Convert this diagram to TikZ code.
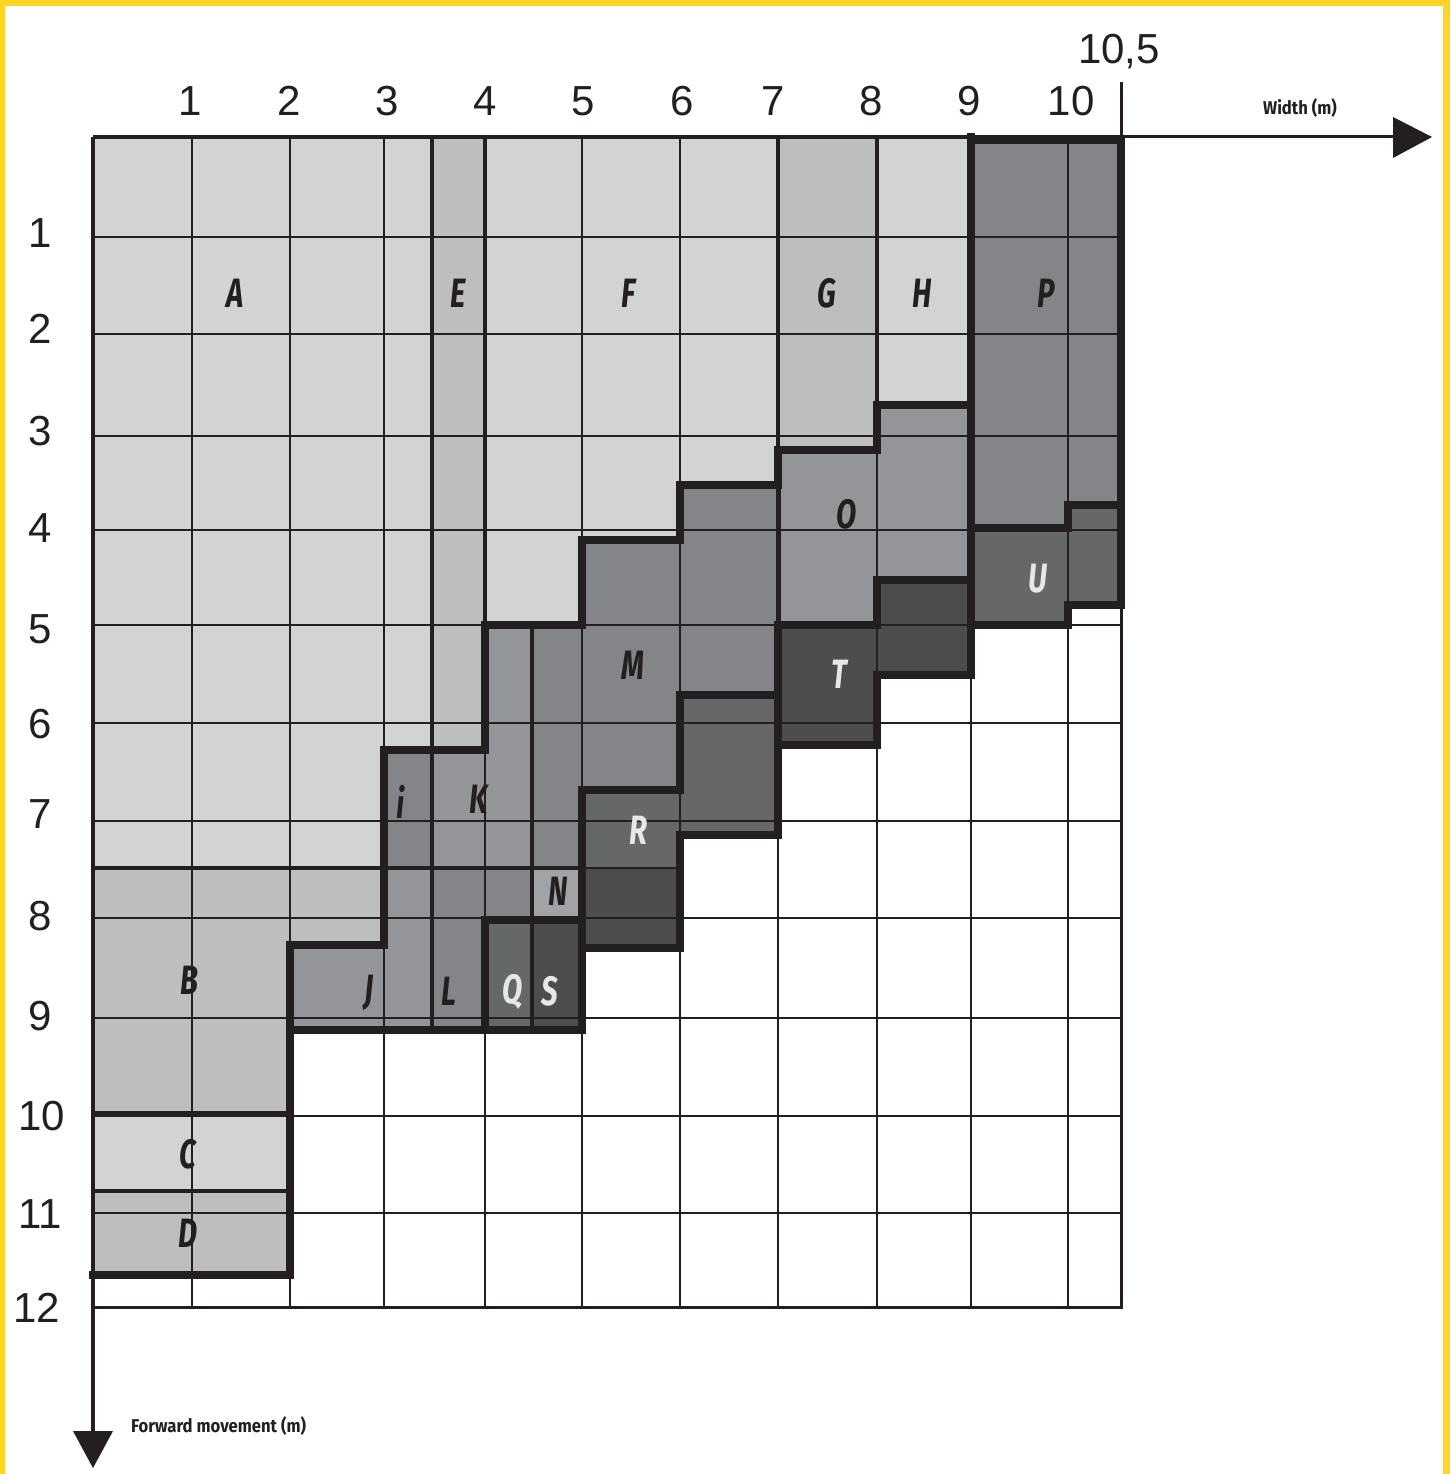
\documentclass[tikz,border=0pt]{standalone}
\usepackage{fontspec}
\setmainfont{Liberation Sans}
\newfontfamily\letfont[FakeStretch=0.72]{Fira Sans}
\newfontfamily\axfont[FakeStretch=0.9]{Fira Sans}
\newfontfamily\numfont{Liberation Sans}
\definecolor{cL}{HTML}{D1D3D4}
\definecolor{cLM}{HTML}{BCBEC0}
\definecolor{cM}{HTML}{939598}
\definecolor{cMD}{HTML}{848588}
\definecolor{cN}{HTML}{A2A3A6}
\definecolor{cDa}{HTML}{666769}
\definecolor{cDb}{HTML}{4D4D4F}
\definecolor{ink}{HTML}{231F20}
\definecolor{wlet}{HTML}{E6E7E8}
\definecolor{yel}{HTML}{FFD520}
\tikzset{
  gridline/.style={draw=ink, line width=1.5pt},
  midline/.style={draw=ink, line width=3.5pt},
  heavy/.style={draw=ink, line width=8.5pt, line join=miter, line cap=rect},
  frameline/.style={draw=ink, line width=3.5pt},
  lbl/.style={inner sep=0pt, anchor=base, text=ink, font=\letfont\bfseries\itshape\fontsize{41}{41}\selectfont},
  wlbl/.style={lbl, text=wlet},
  num/.style={inner sep=0pt, anchor=base, text=ink, font=\numfont\fontsize{42}{42}\selectfont},
  axlbl/.style={inner sep=0pt, text=ink, font=\axfont\bfseries\fontsize{18.5}{18.5}\selectfont}
}
\begin{document}
\begin{tikzpicture}[x=1pt, y=-1pt]
\useasboundingbox (0,0) rectangle (1450,1474);
\fill[white] (0,0) rectangle (1450,1474);
% yellow frame
\fill[yel] (0,0) rectangle (1450,6);
\fill[yel] (0,0) rectangle (5,1474);
\fill[yel] (1443,0) rectangle (1450,1474);

% region fills
\fill[cL] (93,137) -- (432,137) -- (432,750) -- (384,750) -- (384,868) -- (93,868) -- cycle; % A
\fill[cLM] (432,137) rectangle (485,750); % E
\fill[cL] (485,137) -- (778,137) -- (778,485) -- (680,485) -- (680,540) -- (582,540) -- (582,625) -- (485,625) -- cycle; % F
\fill[cLM] (778,137) rectangle (877,450); % G
\fill[cL] (877,137) rectangle (971,405); % H
\fill[cMD] (971,137) -- (1121,137) -- (1121,505) -- (1068,505) -- (1068,528) -- (971,528) -- cycle; % P
\fill[cDa] (971,528) -- (1068,528) -- (1068,505) -- (1121,505) -- (1121,605) -- (1068,605) -- (1068,625) -- (971,625) -- cycle; % U
\fill[cM] (778,450) -- (877,450) -- (877,405) -- (971,405) -- (971,580) -- (877,580) -- (877,625) -- (778,625) -- cycle; % O
\fill[cDb] (778,625) -- (877,625) -- (877,580) -- (971,580) -- (971,675) -- (877,675) -- (877,745) -- (778,745) -- cycle; % T
\fill[cMD] (532,625) -- (582,625) -- (582,540) -- (680,540) -- (680,485) -- (778,485) -- (778,695) -- (680,695) -- (680,790) -- (582,790) -- (582,868) -- (532,868) -- cycle; % M
\fill[cDa] (582,790) -- (680,790) -- (680,695) -- (778,695) -- (778,835) -- (680,835) -- (680,868) -- (582,868) -- cycle; % R
\fill[cDb] (582,868) rectangle (680,948);
\fill[cM] (432,750) -- (485,750) -- (485,625) -- (532,625) -- (532,868) -- (432,868) -- cycle; % K
\fill[cMD] (384,750) rectangle (432,868); % i
\fill[cLM] (93,868) -- (384,868) -- (384,945) -- (290,945) -- (290,1113) -- (93,1113) -- cycle; % B
\fill[cL] (93,1113) rectangle (290,1191); % C
\fill[cLM] (93,1191) rectangle (290,1275); % D
\fill[cM] (290,945) -- (384,945) -- (384,868) -- (432,868) -- (432,1030) -- (290,1030) -- cycle; % J
\fill[cMD] (432,868) -- (532,868) -- (532,918) -- (485,918) -- (485,1030) -- (432,1030) -- cycle; % L
\fill[cN] (532,868) rectangle (582,918); % N
\fill[cDa] (485,918) rectangle (532,1030); % Q
\fill[cDb] (532,918) rectangle (582,1030); % S

% grid
\foreach \gx in {192,290,384,485,582,680,778,877,971,1068}
  \draw[gridline] (\gx,137) -- (\gx,1307);
\foreach \gy in {237,334,436,530,625,723,821,918,1018,1116,1213}
  \draw[gridline] (93,\gy) -- (1121,\gy);
\draw[gridline] (582,868) -- (680,868);

% medium borders
\draw[midline] (432,137) -- (432,1030);
\draw[midline] (485,137) -- (485,625);
\draw[midline] (778,137) -- (778,485);
\draw[midline] (877,137) -- (877,405);
\draw[midline, line width=5pt] (778,485) -- (778,625);
\draw[midline] (93,868) -- (582,868);
\draw[midline] (93,1113) -- (290,1113);
\draw[midline] (93,1191) -- (290,1191);
\draw[midline, line width=4.5pt] (532,625) -- (532,1030);

% frame and axes
\coordinate (o) at (93,137);
\coordinate (xe) at (1400,137);
\coordinate (ye) at (93,1440);
\draw[frameline] (o) -- (1121,137);
\draw[frameline, line width=3pt] (1121,137) -- (xe);
\draw[frameline] (o) -- (ye);
\draw[frameline, line width=3pt] (93,1307) -- (1121,1307) -- (1121,137) -- (1121,82);
\fill[ink] (1393,117) -- (1432,137) -- (1393,158) -- cycle;
\fill[ink] (73,1431) -- (113,1431) -- (93,1468) -- cycle;

% heavy borders
\draw[heavy] (971,137) -- (971,405) -- (877,405) -- (877,450) -- (778,450) -- (778,485) -- (680,485) -- (680,540) -- (582,540) -- (582,625) -- (485,625) -- (485,750) -- (384,750) -- (384,945) -- (290,945) -- (290,1275) -- (93,1275);
\draw[heavy] (971,140) -- (1121,140) -- (1121,605);
\draw[heavy] (971,405) -- (971,675);
\draw[heavy] (971,528) -- (1068,528) -- (1068,505) -- (1121,505);
\draw[heavy] (971,625) -- (1068,625) -- (1068,605) -- (1121,605);
\draw[heavy] (778,625) -- (877,625) -- (877,580) -- (971,580);
\draw[heavy] (971,675) -- (877,675) -- (877,745) -- (778,745);
\draw[heavy] (778,625) -- (778,835);
\draw[heavy] (778,695) -- (680,695) -- (680,790) -- (582,790) -- (582,1030);
\draw[heavy] (778,835) -- (680,835) -- (680,948) -- (582,948);
\draw[heavy] (290,1030) -- (582,1030);
\draw[heavy] (485,1030) -- (485,920) -- (582,920);

% region letters
\node[lbl] (lA) at (235,307) {A};
\node[lbl] (lE) at (458,307) {E};
\node[lbl] (lF) at (629,307) {F};
\node[lbl] (lG) at (827,307) {G};
\node[lbl] (lH) at (922,307) {H};
\node[lbl] (lP) at (1046,307) {P};
\node[lbl] (lO) at (847,528) {O};
\node[wlbl] (lU) at (1038,592) {U};
\node[lbl] (lM) at (633,679) {M};
\node[wlbl] (lT) at (839,688) {T};
\node[lbl] (li) at (401,818) {i};
\node[lbl] (lK) at (479,813) {K};
\node[wlbl] (lR) at (638,844) {R};
\node[lbl] (lN) at (558,905) {N};
\node[lbl] (lB) at (189,994) {B};
\node[lbl] (lJ) at (369,1003) {J};
\node[lbl] (lL) at (449,1005) {L};
\node[wlbl] (lQ) at (513,1003) {Q};
\node[wlbl] (lS) at (550,1005) {S};
\node[lbl] (lC) at (188,1168) {C};
\node[lbl] (lD) at (188,1247) {D};

% top scale
\foreach \n/\px in {1/190,2/289,3/387,4/485,5/583,6/682,7/773,8/871,9/969,10/1071}
  \node[num] (t\n) at (\px,116) {\n};
\node[num] (t105) at (1119,64) {10,5};
% left scale
\foreach \n/\px/\py in {1/40/247,2/40/343,3/40/445,4/40/542,5/40/643,6/40/738,7/40/828,8/40/930,9/40/1030,10/42/1130,11/40/1228,12/37/1322}
  \node[num] (s\n) at (\px,\py) {\n};

% axis labels
\node[axlbl] (wl) at (1300,108) {Width (m)};
\node[axlbl, anchor=west] (fl) at (131,1426) {Forward movement (m)};
\end{tikzpicture}
\end{document}
